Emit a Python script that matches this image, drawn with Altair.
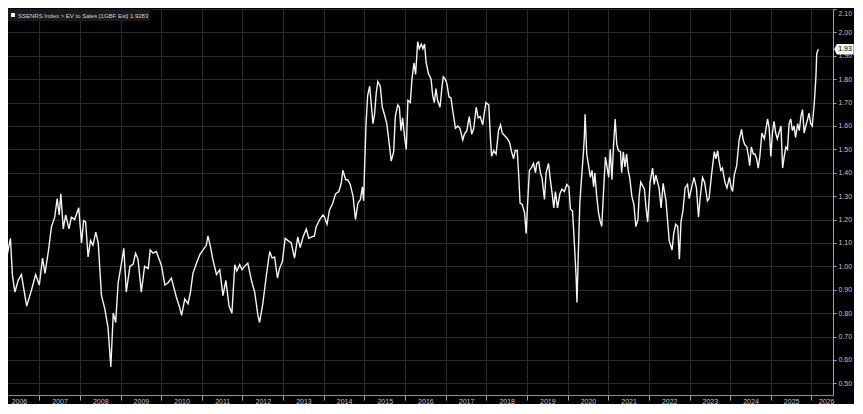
import altair as alt
import pandas as pd

# Decimal-year positions and EV/Sales values
t = [
    2006.03, 2006.15, 2006.19, 2006.29, 2006.34, 2006.40, 2006.48, 2006.56, 2006.69, 2006.81, 2006.91,
    2007.00, 2007.08, 2007.14, 2007.22, 2007.30, 2007.38, 2007.44, 2007.49, 2007.53, 2007.59, 2007.65,
    2007.73, 2007.79, 2007.87, 2007.97,
    2008.04, 2008.09, 2008.14, 2008.20, 2008.26, 2008.32, 2008.39, 2008.45, 2008.53, 2008.61, 2008.69,
    2008.76, 2008.82, 2008.88, 2008.94,
    2009.02, 2009.08, 2009.14, 2009.23, 2009.31, 2009.37, 2009.43, 2009.51, 2009.59, 2009.68, 2009.73,
    2009.80, 2009.88, 2009.95,
    2010.01, 2010.09, 2010.17, 2010.25, 2010.31, 2010.37, 2010.46, 2010.50, 2010.58, 2010.66, 2010.72,
    2010.78, 2010.87, 2010.95,
    2011.03, 2011.11, 2011.15, 2011.21, 2011.27, 2011.36, 2011.44, 2011.52, 2011.59, 2011.67, 2011.74,
    2011.81, 2011.86, 2011.93, 2011.99,
    2012.05, 2012.13, 2012.22, 2012.30, 2012.38, 2012.42, 2012.50, 2012.59, 2012.67, 2012.73, 2012.79,
    2012.86, 2012.91, 2012.98,
    2013.05, 2013.12, 2013.20, 2013.28, 2013.36, 2013.42, 2013.49, 2013.57, 2013.63, 2013.69, 2013.77,
    2013.81, 2013.90, 2013.98,
    2014.02, 2014.08, 2014.14, 2014.22, 2014.29, 2014.37, 2014.43, 2014.47, 2014.54, 2014.59, 2014.65,
    2014.72, 2014.78, 2014.84, 2014.90, 2014.95, 2014.98,
    2015.00, 2015.04, 2015.08, 2015.13, 2015.17, 2015.21, 2015.25, 2015.29, 2015.33, 2015.39, 2015.44,
    2015.49, 2015.55, 2015.60, 2015.66, 2015.72, 2015.76, 2015.82, 2015.86, 2015.90, 2015.94, 2015.99,
    2016.03, 2016.07, 2016.13, 2016.17, 2016.22, 2016.26, 2016.31, 2016.35, 2016.40, 2016.44, 2016.48,
    2016.52, 2016.58, 2016.60, 2016.64, 2016.68, 2016.72, 2016.76, 2016.80, 2016.86, 2016.91, 2016.94,
    2016.99,
    2017.03, 2017.08, 2017.13, 2017.17, 2017.24, 2017.30, 2017.35, 2017.42, 2017.46, 2017.52, 2017.58,
    2017.64, 2017.69, 2017.75, 2017.80, 2017.85, 2017.91, 2017.95, 2017.99,
    2018.06, 2018.10, 2018.13, 2018.18, 2018.24, 2018.30, 2018.35, 2018.39, 2018.44, 2018.50, 2018.57,
    2018.62, 2018.67, 2018.71, 2018.76, 2018.80, 2018.83, 2018.88, 2018.94, 2018.98,
    2019.02, 2019.06, 2019.12, 2019.16, 2019.21, 2019.24, 2019.29, 2019.33, 2019.37, 2019.43, 2019.47,
    2019.53, 2019.57, 2019.62, 2019.66, 2019.70, 2019.75, 2019.81, 2019.86, 2019.92, 2019.98,
    2020.03, 2020.07, 2020.12, 2020.16, 2020.21, 2020.23, 2020.26, 2020.30, 2020.34, 2020.39, 2020.41,
    2020.43, 2020.47, 2020.52, 2020.56, 2020.60, 2020.64, 2020.67, 2020.71, 2020.76, 2020.80, 2020.84,
    2020.89, 2020.93, 2020.97,
    2021.01, 2021.05, 2021.09, 2021.13, 2021.17, 2021.21, 2021.25, 2021.30, 2021.33, 2021.37, 2021.41,
    2021.45, 2021.49, 2021.53, 2021.58, 2021.63, 2021.68, 2021.73, 2021.76, 2021.80, 2021.89, 2021.93,
    2021.97,
    2022.03, 2022.09, 2022.13, 2022.17, 2022.25, 2022.30, 2022.35, 2022.42, 2022.46, 2022.50, 2022.57,
    2022.61, 2022.66, 2022.71, 2022.75, 2022.79, 2022.84, 2022.89, 2022.95, 2022.99,
    2023.05, 2023.11, 2023.17, 2023.22, 2023.26, 2023.32, 2023.37, 2023.44, 2023.48, 2023.54, 2023.61,
    2023.65, 2023.69, 2023.73, 2023.77, 2023.81, 2023.87, 2023.92, 2023.98,
    2024.02, 2024.06, 2024.10, 2024.16, 2024.22, 2024.28, 2024.32, 2024.36, 2024.41, 2024.45, 2024.48,
    2024.52, 2024.57, 2024.61, 2024.65, 2024.69, 2024.73, 2024.78, 2024.84, 2024.88, 2024.92, 2024.96,
    2025.00, 2025.04, 2025.08, 2025.12, 2025.16, 2025.20, 2025.25, 2025.29, 2025.33, 2025.37, 2025.41,
    2025.45, 2025.49, 2025.53, 2025.57, 2025.61, 2025.66, 2025.70, 2025.74, 2025.78, 2025.82, 2025.86,
    2025.90, 2025.94, 2025.98,
    2026.02, 2026.07, 2026.11, 2026.13, 2026.17,
]
v = [
    1.056, 0.90, 1.03, 1.12, 0.96, 0.89, 0.94, 0.965, 0.83, 0.90, 0.965,
    0.92, 1.035, 0.97, 1.06, 1.17, 1.21, 1.29, 1.22, 1.31, 1.16, 1.22,
    1.16, 1.21, 1.20, 1.25,
    1.10, 1.195, 1.19, 1.04, 1.11, 1.09, 1.146, 1.10, 0.875, 0.82, 0.74,
    0.57, 0.80, 0.76, 0.93,
    1.01, 1.077, 0.89, 1.00, 1.01, 1.056, 1.03, 0.89, 1.00, 0.99, 1.07,
    1.056, 1.063, 1.03,
    1.00, 0.92, 0.93, 0.95, 0.91, 0.87, 0.82, 0.79, 0.86, 0.84, 0.89,
    0.97, 1.014, 1.05,
    1.07, 1.09, 1.13, 1.085, 1.03, 0.965, 0.986, 0.875, 0.94, 0.83, 0.80,
    1.007, 0.98, 1.007, 0.986,
    1.00, 1.014, 0.94, 0.89, 0.79, 0.76, 0.84, 0.965, 1.063, 1.035, 1.04,
    0.95, 0.99, 1.02,
    1.12, 1.11, 1.10, 1.035, 1.126, 1.08, 1.125, 1.16, 1.12, 1.125, 1.13,
    1.167, 1.20, 1.22,
    1.21, 1.18, 1.24, 1.27, 1.31, 1.32, 1.355, 1.41, 1.37, 1.37, 1.35,
    1.30, 1.20, 1.27, 1.285, 1.34, 1.28,
    1.40, 1.61, 1.73, 1.77, 1.69, 1.61, 1.65, 1.74, 1.79, 1.77, 1.68,
    1.65, 1.61, 1.54, 1.45, 1.49, 1.64, 1.69, 1.68, 1.58, 1.635, 1.55,
    1.50, 1.71, 1.70, 1.80, 1.87, 1.82, 1.96, 1.93, 1.95, 1.93, 1.95,
    1.87, 1.82, 1.816, 1.80, 1.73, 1.70, 1.76, 1.71, 1.68, 1.77, 1.81,
    1.80,
    1.78, 1.725, 1.72, 1.67, 1.59, 1.60, 1.59, 1.54, 1.565, 1.58, 1.64,
    1.565, 1.59, 1.68, 1.635, 1.64, 1.605, 1.655, 1.70,
    1.69, 1.55, 1.47, 1.495, 1.48, 1.58, 1.605, 1.57, 1.56, 1.55, 1.53,
    1.49, 1.46, 1.495, 1.495, 1.38, 1.27, 1.265, 1.23, 1.14,
    1.286, 1.41, 1.425, 1.44, 1.40, 1.44, 1.446, 1.40, 1.377, 1.286, 1.40,
    1.44, 1.377, 1.31, 1.25, 1.32, 1.25, 1.31, 1.33, 1.32, 1.35,
    1.34, 1.244, 1.237, 1.12, 0.95, 0.846, 1.035, 1.27, 1.37, 1.49, 1.55,
    1.65, 1.48, 1.425, 1.38, 1.41, 1.34, 1.40, 1.31, 1.23, 1.195, 1.17,
    1.34, 1.467, 1.425,
    1.38, 1.50, 1.37, 1.516, 1.63, 1.52, 1.495, 1.49, 1.40, 1.49, 1.425,
    1.48, 1.41, 1.377, 1.30, 1.265, 1.17, 1.20, 1.30, 1.36, 1.33, 1.25,
    1.19,
    1.36, 1.42, 1.35, 1.39, 1.335, 1.25, 1.355, 1.28, 1.195, 1.11, 1.07,
    1.14, 1.18, 1.17, 1.03, 1.19, 1.24, 1.335, 1.35, 1.29,
    1.335, 1.38, 1.335, 1.21, 1.29, 1.38, 1.36, 1.28, 1.29, 1.39, 1.49,
    1.46, 1.495, 1.446, 1.41, 1.42, 1.36, 1.335, 1.38,
    1.34, 1.32, 1.39, 1.43, 1.54, 1.585, 1.54, 1.52, 1.51, 1.47, 1.43,
    1.51, 1.48, 1.48, 1.46, 1.42, 1.47, 1.57, 1.545, 1.585, 1.63, 1.59,
    1.47, 1.57, 1.62, 1.57, 1.545, 1.57, 1.60, 1.42, 1.47, 1.51, 1.50,
    1.61, 1.63, 1.58, 1.60, 1.55, 1.61, 1.58, 1.64, 1.67, 1.57, 1.60,
    1.625, 1.655, 1.61,
    1.60, 1.70, 1.81, 1.91, 1.928,
]

header = "SSENRS Index > EV to Sales [1GBF Est]  1.9283"
year_starts = list(range(2007, 2027))
label_years = list(range(2006, 2027))
y_ticks = [round(0.5 + 0.1 * i, 2) for i in range(17)]

df = pd.DataFrame({"t": t, "v": v})
last = pd.DataFrame({"v": [v[-1]], "lab": [f"{v[-1]:.2f}"]})

W, H = 825, 386
xscale = alt.Scale(domain=[2006.23, 2026.53], nice=False, zero=False)
yscale = alt.Scale(domain=[0.45, 2.10], nice=False, zero=False)

label_pos = [yr + 0.5 for yr in label_years[:-1]] + [label_years[-1] + 0.36]
is_year = "abs(datum.value - round(datum.value)) < 0.001"

xaxis = alt.Axis(
    values=year_starts + label_pos, title=None, orient="bottom",
    labelExpr=f"({is_year}) ? '' : '' + floor(datum.value)",
    grid=True, gridColor="#2c2c2c", gridWidth=1,
    gridOpacity={"condition": {"test": is_year, "value": 1}, "value": 0},
    tickOpacity={"condition": {"test": is_year, "value": 1}, "value": 0},
    tickSize=5, tickColor="#a0a0a0", domainColor="#8c8c8c",
    labelColor="#c4c4c4", labelFontSize=7, labelFont="Liberation Sans",
    labelPadding=-3, labelOverlap=False, labelFlush=False, labelBound=False,
)
yaxis = alt.Axis(
    values=y_ticks, title=None, orient="right",
    labelExpr="format(datum.value, '.2f')",
    grid=True, gridColor="#2c2c2c", gridWidth=1,
    tickSize=3, tickColor="#a0a0a0", domainColor="#a0a0a0",
    labelColor="#c4c4c4", labelFontSize=7, labelFont="Liberation Sans",
    labelPadding=2, labelFlush=True, labelOverlap=False,
)

base = alt.Chart(df).encode(
    x=alt.X("t:Q", scale=xscale, axis=xaxis),
    y=alt.Y("v:Q", scale=yscale, axis=yaxis),
)
line = base.mark_line(color="#f4f4f4", strokeWidth=1.4, clip=True)

tag_shape = "M-1.25,0L-0.95,-0.6L1,-0.6L1,0.6L-0.95,0.6Z"
tag = alt.Chart(last).mark_point(shape=tag_shape, size=300, filled=True, color="#f4f4f4", opacity=1).encode(
    x=alt.value(W + 12),
    y=alt.Y("v:Q", scale=yscale, axis=yaxis),
)
tag_text = alt.Chart(last).mark_text(fontSize=7, font="Liberation Sans", color="#000", align="center", baseline="middle").encode(
    x=alt.value(W + 12),
    y=alt.Y("v:Q", scale=yscale, axis=yaxis),
    text="lab:N",
)

hdr = pd.DataFrame({"txt": [header]})
hdr_box = alt.Chart(hdr).mark_rect(color="#1a1a1a").encode(
    x=alt.value(0), x2=alt.value(142), y=alt.value(0), y2=alt.value(12)
)
hdr_sq = alt.Chart(hdr).mark_square(color="#f4f4f4", filled=True, size=16, opacity=1).encode(
    x=alt.value(5), y=alt.value(6)
)
hdr_text = alt.Chart(hdr).mark_text(fontSize=6, font="Liberation Sans", color="#d0d0d0", align="left", baseline="middle").encode(
    x=alt.value(10), y=alt.value(6.5), text="txt:N"
)

chart = alt.layer(line, tag, tag_text, hdr_box, hdr_sq, hdr_text).properties(
    width=W, height=H, background="#000000", padding=0
).configure_view(stroke=None)

chart.save("out.html", embed_options={"renderer": "svg", "actions": False})
